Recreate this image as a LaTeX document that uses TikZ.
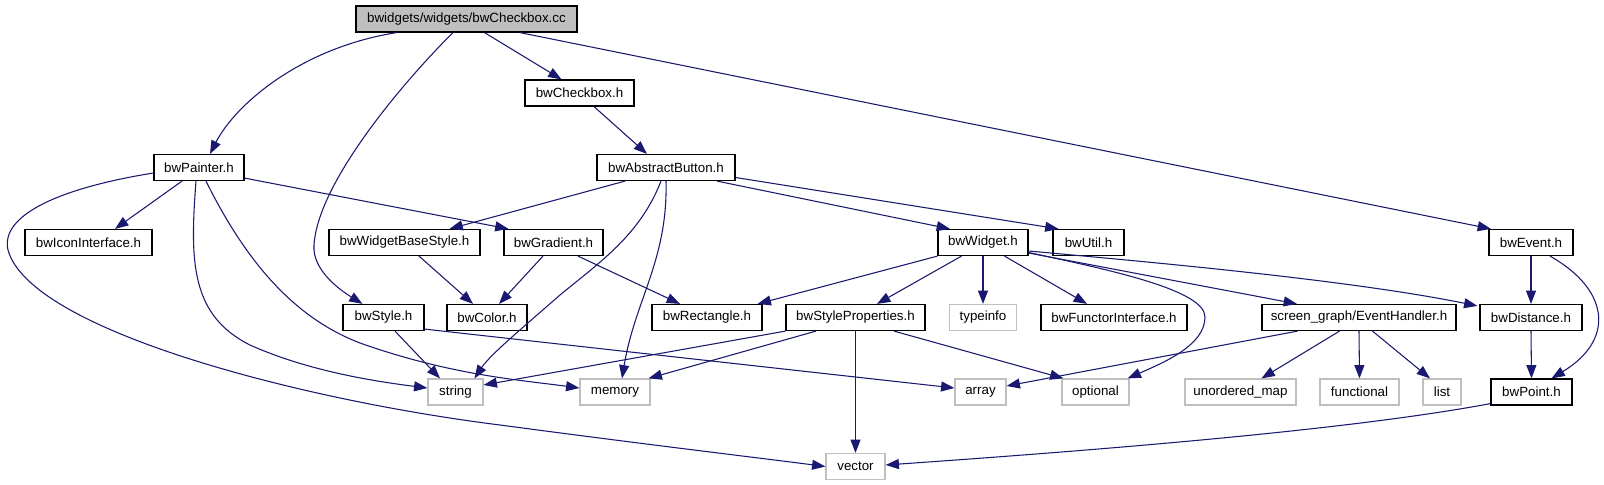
\documentclass[tikz,border=0pt]{standalone}
\usepackage{fontspec}
\setmainfont{Liberation Sans}
\usetikzlibrary{arrows.meta,calc}
\definecolor{edgeblue}{HTML}{191970}
\definecolor{sysgray}{HTML}{BFBFBF}
\begin{document}
\begin{tikzpicture}[x=0.75pt,y=-0.75pt,
  hdr/.style={draw=black, line width=0.9pt, fill=white, minimum height=19.5pt, inner sep=0pt, font=\fontsize{10}{12}\selectfont},
  sys/.style={hdr, draw=sysgray},
  rootbox/.style={hdr, fill=sysgray},
  dep/.style={draw=edgeblue, line width=0.8pt, -{Triangle[length=10pt,width=7.5pt]}}]
\useasboundingbox[fill=white] (0,0) rectangle (1604,485);
% row 0
\node[rootbox, minimum width=165.75pt] (root) at (466.5,19) {bwidgets/widgets/bwCheckbox.cc};
% row 1
\node[hdr, minimum width=81.75pt] (chk) at (579.5,93) {bwCheckbox.h};
% row 2
\node[hdr, minimum width=67.5pt] (painter) at (199,167.5) {bwPainter.h};
\node[hdr, minimum width=103.5pt] (abtn) at (666,167.5) {bwAbstractButton.h};
% row 3
\node[hdr, minimum width=95.25pt] (icon) at (88.5,242.5) {bwIconInterface.h};
\node[hdr, minimum width=113.25pt] (wbs) at (404.5,242.5) {bwWidgetBaseStyle.h};
\node[hdr, minimum width=74.25pt] (grad) at (553.5,242.5) {bwGradient.h};
\node[hdr, minimum width=67.5pt] (widget) at (983,242.5) {bwWidget.h};
\node[hdr, minimum width=53.25pt] (util) at (1088.5,242.5) {bwUtil.h};
\node[hdr, minimum width=63pt] (event) at (1531,242.5) {bwEvent.h};
% row 4
\node[hdr, minimum width=60.75pt] (style) at (383.5,317.5) {bwStyle.h};
\node[hdr, minimum width=60pt] (color) at (487,317.5) {bwColor.h};
\node[hdr, minimum width=82.5pt] (rect) at (707,317.5) {bwRectangle.h};
\node[hdr, minimum width=104.25pt] (sprop) at (855.5,317.5) {bwStyleProperties.h};
\node[sys, minimum width=50.25pt] (typeinfo) at (983,317.5) {typeinfo};
\node[hdr, minimum width=109.5pt] (functor) at (1114,317.5) {bwFunctorInterface.h};
\node[hdr, minimum width=145.5pt] (evh) at (1359,317.5) {screen\_graph/EventHandler.h};
\node[hdr, minimum width=76.5pt] (dist) at (1531,317.5) {bwDistance.h};
% row 5
\node[sys, minimum width=41.25pt] (string) at (455.5,392) {string};
\node[sys, minimum width=52.5pt] (memory) at (615,392) {memory};
\node[sys, minimum width=38.25pt] (array) at (980.5,392) {array};
\node[sys, minimum width=50.25pt] (optional) at (1095.5,392) {optional};
\node[sys, minimum width=83.25pt] (umap) at (1240.5,392) {unordered\_map};
\node[sys, minimum width=59.25pt] (functional) at (1359.5,392) {functional};
\node[sys, minimum width=28.5pt] (list) at (1442,392) {list};
\node[hdr, minimum width=60.75pt] (point) at (1531.5,392) {bwPoint.h};
% row 6
\node[sys, minimum width=44.25pt] (vector) at (855.5,466.5) {vector};

% edges from root
\draw[dep] ($(root.south)+(-70,0)$) .. controls (300,48) and (235,105) .. ($(painter.north)+(11,0)$);
\draw[dep] ($(root.south)+(18,0)$) -- ($(chk.north)+(-18,0)$);
\draw[dep] ($(root.south)+(-13.5,0)$) .. controls (410,75) and (318,180) .. (314,245) .. controls (312,270) and (340,290) .. ($(style.north)+(-21,0)$);
\draw[dep] ($(root.south)+(53.5,0)$) -- ($(event.north)+(-40,0)$);
% bwCheckbox
\draw[dep] ($(chk.south)+(14.5,0)$) -- ($(abtn.north)+(-19,0)$);
% bwPainter
\draw[dep] ($(painter.south)+(-17,0)$) -- ($(icon.north)+(26.5,0)$);
\draw[dep] ($(painter.south east)+(0,-3)$) -- ($(grad.north)+(-45,0)$);
\draw[dep] ($(painter.south)+(-3,0)$) .. controls (190,260) and (190,315) .. (250,345) .. controls (310,372) and (380,382) .. ($(string.west)+(0,-4)$);
\draw[dep] ($(painter.south)+(7,0)$) .. controls (250,270) and (300,320) .. (360,343) .. controls (450,375) and (520,380) .. ($(memory.west)+(0,-4)$);
\draw[dep] ($(painter.west)+(0,5.5)$) .. controls (60,188) and (0,215) .. (8,250) .. controls (30,330) and (300,400) .. (500,425) .. controls (650,445) and (760,458) .. (vector.west);
% bwAbstractButton
\draw[dep] ($(abtn.south)+(-41,0)$) -- ($(wbs.north)+(45,0)$);
\draw[dep] ($(abtn.south)+(-5,0)$) .. controls (640,235) and (600,262) .. (560,295) .. controls (520,330) and (490,355) .. ($(string.north)+(19,0)$);
\draw[dep] (abtn.south) .. controls (668,260) and (635,300) .. ($(memory.north)+(7,0)$);
\draw[dep] ($(abtn.south)+(51,0)$) -- ($(widget.north)+(-33,0)$);
\draw[dep] ($(abtn.east)+(0,10)$) -- ($(util.north)+(-30,0)$);
% row 3 sources
\draw[dep] ($(wbs.south)+(14.5,0)$) -- ($(color.north)+(-14,0)$);
\draw[dep] ($(grad.south)+(-10.5,0)$) -- ($(color.north)+(12,0)$);
\draw[dep] ($(grad.south)+(24.5,0)$) -- ($(rect.north)+(-27,0)$);
\draw[dep] ($(style.south)+(11.5,0)$) -- ($(string.north)+(-15.5,0)$);
\draw[dep] ($(style.south east)+(0,-2)$) -- ($(array.west)+(0,-4)$);
% bwWidget
\draw[dep] (widget.south west) -- ($(rect.north east)+(-5,0)$);
\draw[dep] ($(widget.south)+(-21.5,0)$) -- ($(sprop.north)+(21.5,0)$);
\draw[dep] (widget.south) -- (typeinfo.north);
\draw[dep] ($(widget.south)+(21.5,0)$) -- ($(functor.north)+(-27,0)$);
\draw[dep] ($(widget.east)+(0,10)$) .. controls (1110,270) and (1205,290) .. (1205,317) .. controls (1205,345) and (1165,362) .. ($(optional.north east)+(-2,0)$);
\draw[dep] ($(widget.east)+(0,10.5)$) -- ($(evh.north)+(-62,0)$);
\draw[dep] ($(widget.east)+(0,8.5)$) .. controls (1150,262) and (1350,280) .. ($(dist.north west)+(-2,2)$);
% bwEvent
\draw[dep] (event.south) -- (dist.north);
\draw[dep] ($(event.south)+(19,0)$) .. controls (1610,290) and (1615,340) .. ($(point.north)+(20,0)$);
% bwStyleProperties
\draw[dep] (sprop.south west) -- ($(string.east)+(0,-7)$);
\draw[dep] ($(sprop.south)+(-39.5,0)$) -- ($(memory.north east)+(-2,0)$);
\draw[dep] (sprop.south) -- (vector.north);
\draw[dep] ($(sprop.south)+(38.5,0)$) -- ($(optional.north west)+(2,0)$);
% EventHandler
\draw[dep] ($(evh.south)+(-61.5,0)$) -- ($(array.east)+(0,-6)$);
\draw[dep] ($(evh.south)+(-19.5,0)$) -- ($(umap.north)+(21,0)$);
\draw[dep] (evh.south) -- (functional.north);
\draw[dep] ($(evh.south)+(13.5,0)$) -- ($(list.north)+(-12,0)$);
% bwDistance, bwPoint
\draw[dep] (dist.south) -- (point.north);
\draw[dep] ($(point.south west)+(0,-2)$) .. controls (1350,430) and (1100,450) .. ($(vector.east)+(0,-1.5)$);
\end{tikzpicture}
\end{document}
